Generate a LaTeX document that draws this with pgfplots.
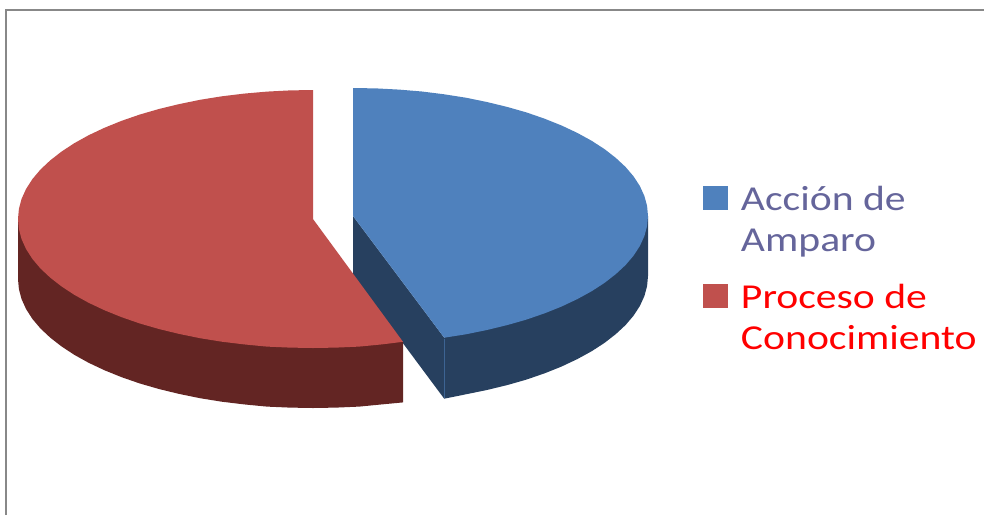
\documentclass[border=0pt]{standalone}
\usepackage{fontspec}
\setmainfont{Carlito}[FakeStretch=1.19]
\usepackage{pgfplots}
\pgfplotsset{compat=1.18}
\definecolor{topblue}{HTML}{4F81BD}
\definecolor{wallblue}{HTML}{27405F}
\definecolor{topred}{HTML}{C0504D}
\definecolor{wallred}{HTML}{632523}
\definecolor{labelblue}{HTML}{65659B}
\definecolor{framegray}{HTML}{888888}
\newcommand{\entrylines}[3]{{\color{#1}\begin{tabular}[t]{@{\hspace{13pt}}l@{}}#2\\#3\end{tabular}}}
\begin{document}
\begin{tikzpicture}
\path[use as bounding box] (0,0) rectangle (984pt,515pt);
\begin{axis}[
  at={(0,0)}, anchor=south west,
  scale only axis, width=984pt, height=515pt,
  xmin=0, xmax=984, ymin=0, ymax=515, y dir=reverse,
  hide axis, clip=true,
  legend style={
    at={(703/984,1-182/515)}, anchor=north west,
    draw=none, fill=none, inner sep=0pt, outer sep=0pt,
    font=\fontsize{35}{41}\selectfont,
    nodes={inner sep=0pt},
    row sep=68pt,
  },
  legend cell align=left,
  legend image code/.code={\fill[#1] (0pt,-13pt) rectangle (25pt,11pt);},
]
% chart frame
\addplot[framegray, line width=2pt, forget plot] coordinates {(6,515) (6,10) (984,10)};

% blue slice: rim, cut face, top
\addplot[fill=wallblue, draw=none, forget plot] coordinates {
  (648,216) (648,276) (647.1,286) (644.4,296) (639.9,305.9) (633.6,315.6)
  (625.6,325) (615.8,334.1) (604.5,342.9) (591.7,351.2) (577.3,359.1)
  (561.6,366.5) (544.6,373.3) (526.4,379.6) (507.1,385.1) (486.9,390)
  (465.9,394.3) (444.2,398.7) (444.2,337.7)};
\addplot[fill=wallblue, draw=none, forget plot] coordinates {
  (353,216) (444.2,337.7) (444.2,398.7) (353,276)};
\addplot[fill=topblue, draw=none] coordinates {
  (353,216) (353,88) (376.2,88.4) (399.1,89.6) (421.9,91.5) (444.2,94.3)
  (465.9,97.7) (486.9,102) (507.1,106.9) (526.4,112.4) (544.6,118.7)
  (561.6,125.5) (577.3,132.9) (591.7,140.8) (604.5,149.1) (615.8,157.9)
  (625.6,167) (633.6,176.4) (639.9,186.1) (644.4,196) (647.1,206)
  (648,216) (647.1,226) (644.4,236) (639.9,245.9) (633.6,255.6)
  (625.6,265) (615.8,274.1) (604.5,282.9) (591.7,291.2) (577.3,299.1)
  (561.6,306.5) (544.6,313.3) (526.4,319.6) (507.1,325.1) (486.9,330)
  (465.9,334.3) (444.2,337.7)};
\addlegendentry{\entrylines{labelblue}{Acción de}{Amparo}}
\addplot[draw=topblue!55!wallblue, line width=0.5pt, forget plot] coordinates {(444.2,338.5) (444.2,397.5)};

% red slice: rim and top
\addplot[fill=wallred, draw=none, forget plot] coordinates {
  (18,219) (18,279) (18.9,289.1) (21.6,299.2) (26.1,309.1) (32.4,318.9)
  (40.4,328.4) (50.2,337.6) (61.5,346.4) (74.3,354.8) (88.7,362.8)
  (104.4,370.2) (121.4,377.1) (139.6,383.4) (158.9,389) (179.1,393.9)
  (200.1,398.2) (221.8,401.7) (244.1,404.4) (266.9,406.6) (289.8,407.6)
  (313,408) (336.2,407.6) (359.1,406.6) (381.9,404.4) (403,402.4) (403,341.8)};
\addplot[fill=topred, draw=none] coordinates {
  (313,219) (313,90) (289.8,90.4) (266.9,91.6) (244.1,93.6) (221.8,96.3)
  (200.1,99.8) (179.1,104.1) (158.9,109) (139.6,114.6) (121.4,120.9)
  (104.4,127.8) (88.7,135.2) (74.3,143.2) (61.5,151.6) (50.2,160.4)
  (40.4,169.6) (32.4,179.1) (26.1,188.9) (21.6,198.8) (18.9,208.9)
  (18,219) (18.9,229.1) (21.6,239.2) (26.1,249.1) (32.4,258.9)
  (40.4,268.4) (50.2,277.6) (61.5,286.4) (74.3,294.8) (88.7,302.8)
  (104.4,310.2) (121.4,317.1) (139.6,323.4) (158.9,329) (179.1,333.9)
  (200.1,338.2) (221.8,341.7) (244.1,344.4) (266.9,346.6) (289.8,347.6)
  (313,348) (336.2,347.6) (359.1,346.6) (381.9,344.4) (403,341.8)};
\addlegendentry{\entrylines{red}{Proceso de}{Conocimiento}}
\end{axis}
\end{tikzpicture}
\end{document}
